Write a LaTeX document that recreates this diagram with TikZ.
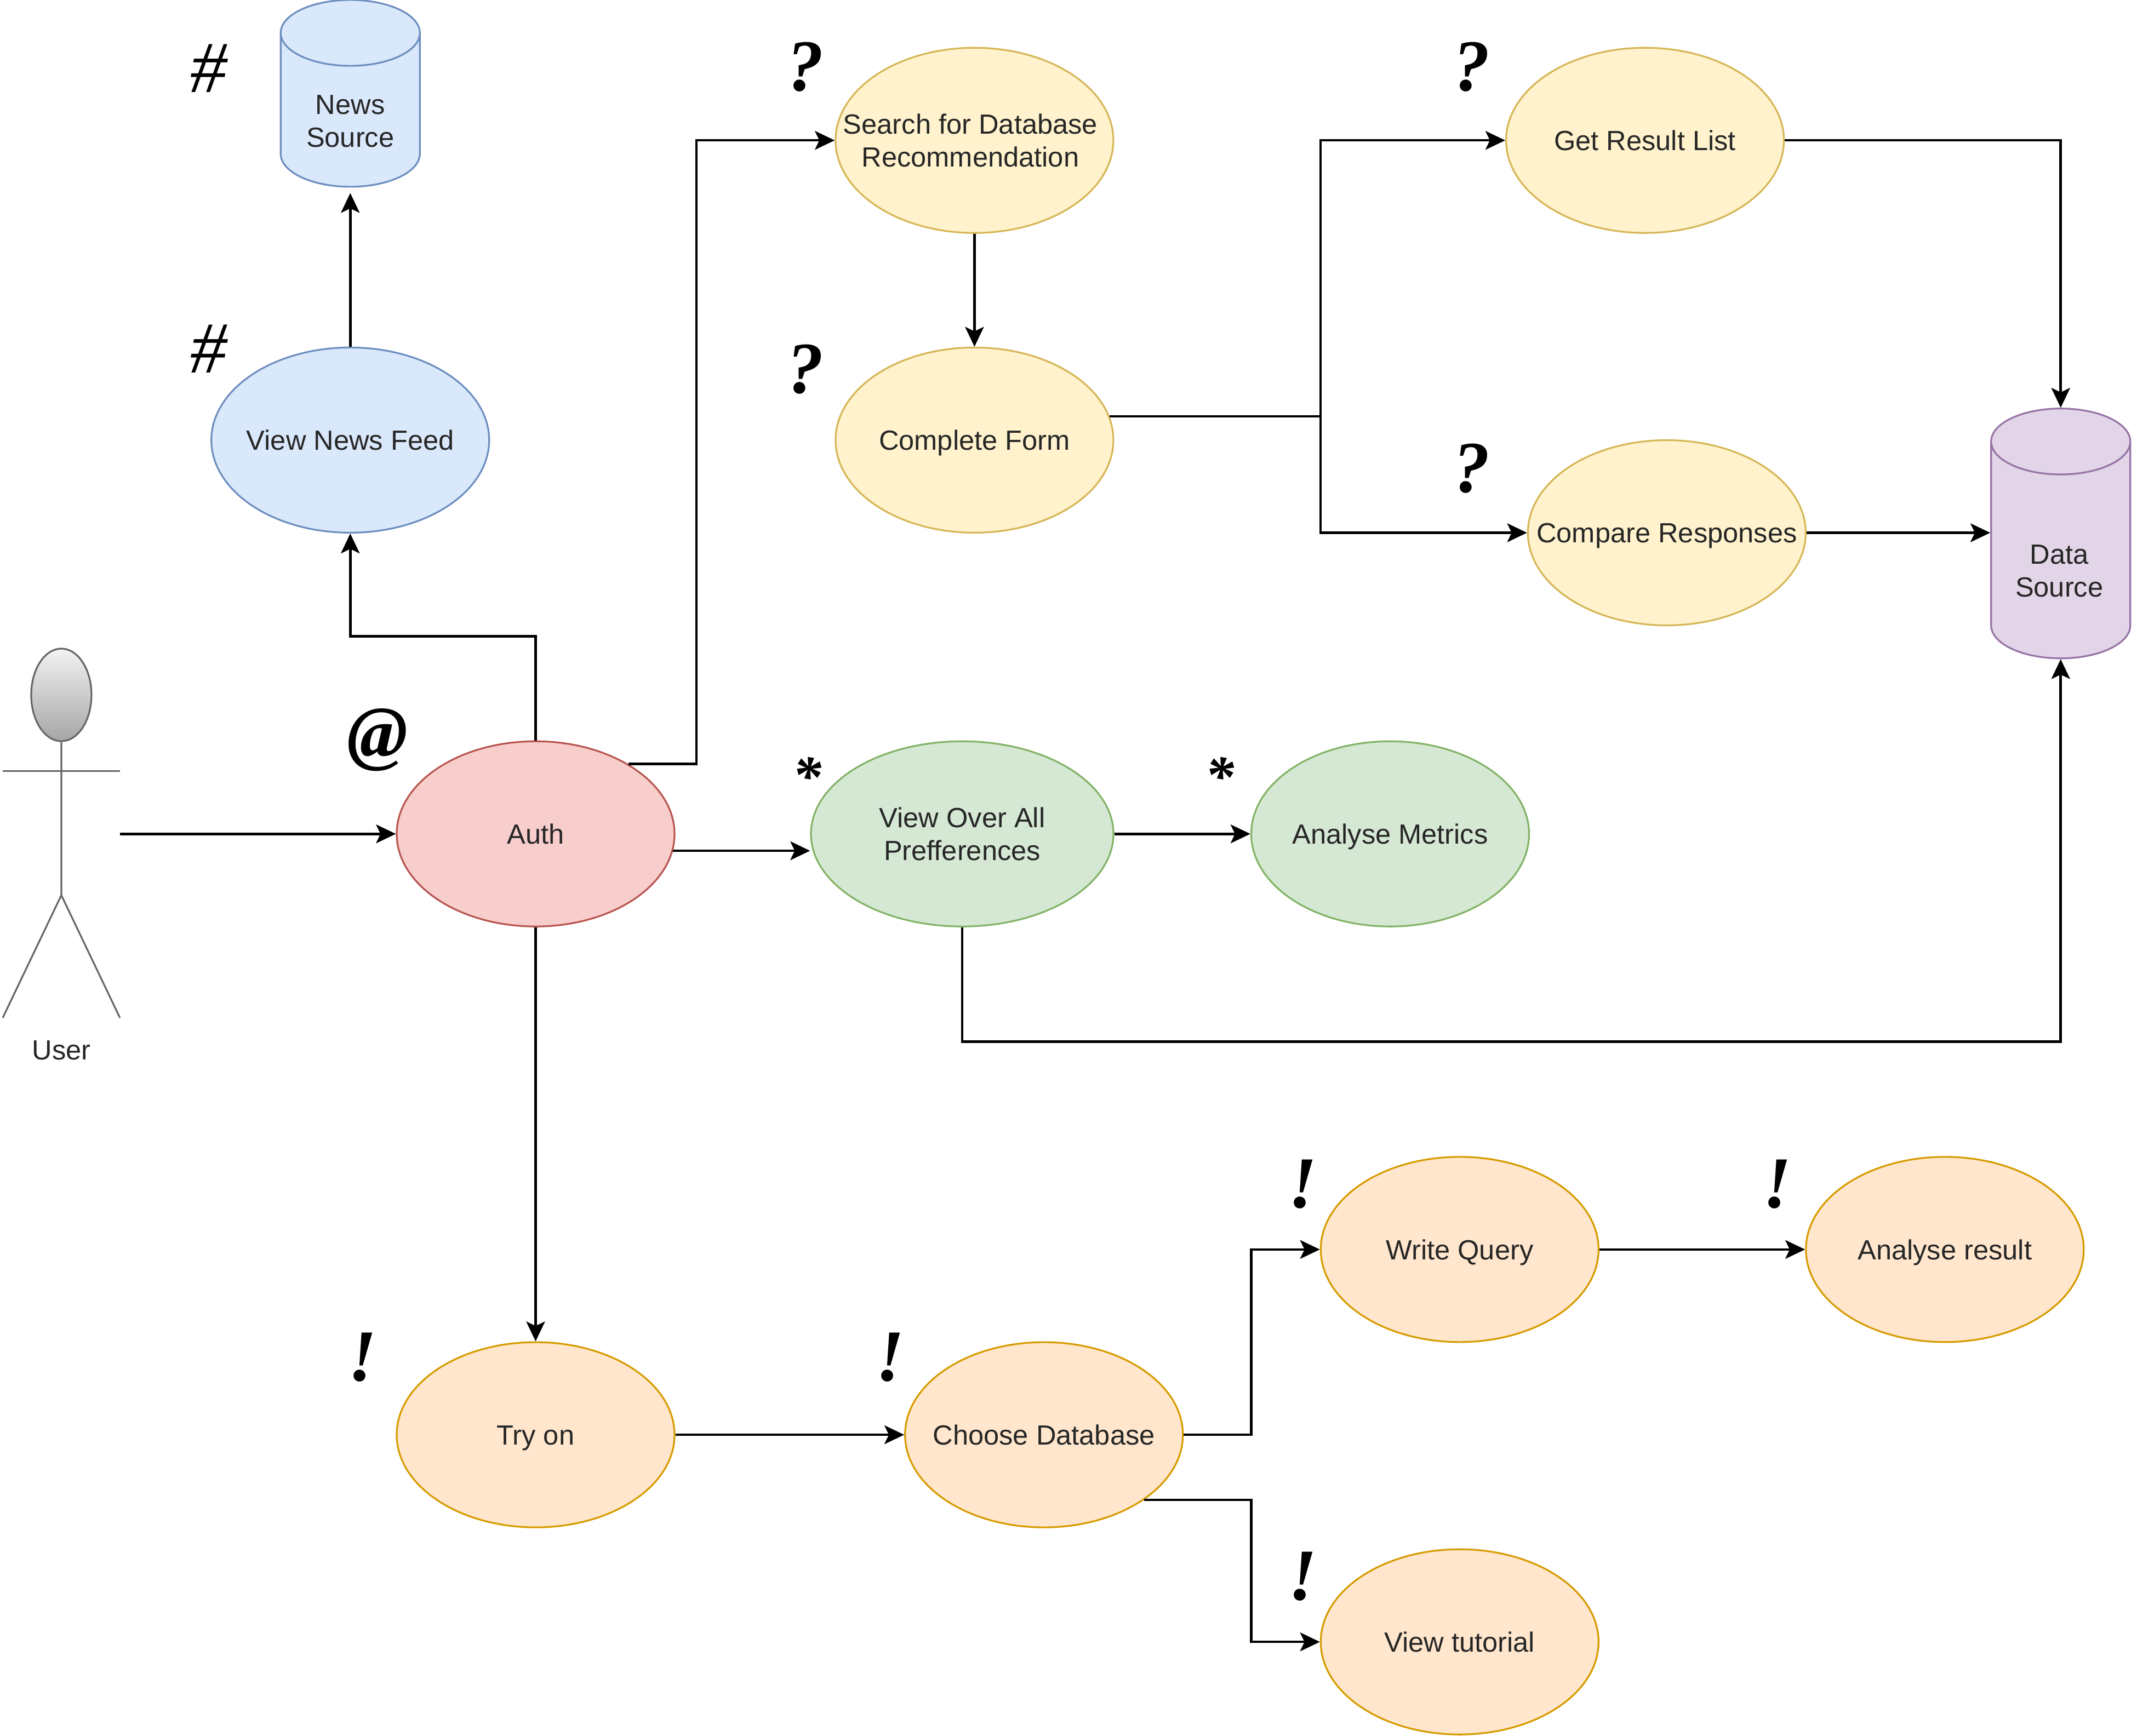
\documentclass[tikz,border=0pt]{standalone}
\usepackage{fontspec}
\setmainfont{Liberation Serif}
\setsansfont{Liberation Sans}
\usetikzlibrary{arrows.meta,calc,shapes.geometric}
\definecolor{blueFill}{HTML}{DAE8FC}\definecolor{blueLine}{HTML}{6C8EBF}
\definecolor{redFill}{HTML}{F8CECC}\definecolor{redLine}{HTML}{B85450}
\definecolor{yellowFill}{HTML}{FFF2CC}\definecolor{yellowLine}{HTML}{D6B656}
\definecolor{greenFill}{HTML}{D5E8D4}\definecolor{greenLine}{HTML}{82B366}
\definecolor{orangeFill}{HTML}{FFE6CC}\definecolor{orangeLine}{HTML}{D79B00}
\definecolor{purpleFill}{HTML}{E1D5E7}\definecolor{purpleLine}{HTML}{9673A6}
\tikzset{%
  >={Stealth[width=3.4mm,length=3.6mm,inset=0.8mm]},
  % Specifications for style of nodes:
  base/.style = {ellipse, draw, line width=0.9pt, inner sep=-1cm,
                 minimum width=5.07cm, minimum height=3.38cm,
                 align=center, text=black!85,
                 font=\sffamily\fontsize{14.4}{17}\selectfont},
  flat/.style = {text height=10.4pt, text depth=0pt},
  newsnode/.style = {base, fill=blueFill, draw=blueLine},
  authnode/.style = {base, fill=redFill, draw=redLine},
  searchnode/.style = {base, fill=yellowFill, draw=yellowLine},
  prefnode/.style = {base, fill=greenFill, draw=greenLine},
  trynode/.style = {base, fill=orangeFill, draw=orangeLine},
  store/.style = {cylinder, shape border rotate=90, shape aspect=0.75, draw,
                  anchor=shape center, align=center,
                  line width=0.9pt, inner sep=0pt, minimum width=2.54cm,
                  font=\sffamily\fontsize{14.4}{17}\selectfont},
  storetext/.style = {inner sep=0pt, align=center, text=black!85,
                  font=\sffamily\fontsize{14.4}{17}\selectfont},
  tagmark/.style = {inner sep=0pt, font=\bfseries\itshape\fontsize{38}{38}\selectfont},
  thinmark/.style = {tagmark, font=\itshape\fontsize{38}{38}\selectfont},
  starmark/.style = {tagmark, font=\bfseries\itshape\fontsize{30}{30}\selectfont},
  link/.style = {->, line width=1.3pt},
  stick/.style = {draw=black!60, line width=0.9pt},
}
\begin{document}
\begin{tikzpicture}[x=0.024872cm,y=-0.024872cm]
  \useasboundingbox (0,0) rectangle (1568,1273.8);
  % Specification of nodes (position, etc.)
  \node (newssrc)  [store, minimum height=3.41cm, fill=blueFill, draw=blueLine] at (257,68.5) {\phantom{News}\\\phantom{Source}};
  \node (newstext) [storetext]  at (257,89)   {News\\Source};
  \node (newsfeed) [newsnode, flat] at (257,323)  {View News Feed};
  \node (auth)     [authnode, flat] at (393,612)  {Auth};
  \node (search)   [searchnode] at (715,103)  {};
  \node (searchtext) [storetext] at (712,103) {Search for Database\\Recommendation};
  \node (complete) [searchnode, flat] at (715,323)  {Complete Form};
  \node (getlist)  [searchnode, flat] at (1207,103) {Get Result List};
  \node (compare)  [searchnode, flat] at (1223,391) {Compare Responses};
  \node (datasrc)  [store, minimum height=4.56cm, fill=purpleFill, draw=purpleLine] at (1512,391.5) {\phantom{Data}\\\phantom{Source}};
  \node (datatext) [storetext]  at (1511,419) {Data\\Source};
  \node (overall)  [prefnode, minimum width=5.52cm] at (706,612) {View Over All\\Prefferences};
  \node (metrics)  [prefnode, flat] at (1020,612) {Analyse Metrics};
  \node (tryon)    [trynode, flat] at (393,1053) {Try on};
  \node (choose)   [trynode, flat] at (766,1053) {Choose Database};
  \node (query)    [trynode, flat] at (1071,917) {Write Query};
  \node (result)   [trynode, flat] at (1427,917) {Analyse result};
  \node (tutorial) [trynode, flat] at (1071,1205) {View tutorial};
  % the stick figure
  \node (userhead) [ellipse, stick, inner sep=0pt, minimum width=1.1cm, minimum height=1.69cm,
                    top color=black!5, bottom color=black!35] at (45,510) {};
  \coordinate (userhip)   at (45,657);
  \coordinate (armleft)   at (2,566);
  \coordinate (armright)  at (88,566);
  \coordinate (footleft)  at (2,747);
  \coordinate (footright) at (88,747);
  \coordinate (userout)   at (88,612);
  \draw[stick] (userhead.south) -- (userhip) -- (footleft) (userhip) -- (footright);
  \draw[stick] (armleft) -- (armright);
  \node (userlabel) [font=\sffamily\fontsize{14.4}{17}\selectfont, text=black!85] at (45,771) {User};
  % the marks beside the nodes
  \node (marka) [thinmark] at (153,50)  {\#};
  \node (markb) [thinmark] at (153,256) {\#};
  \node (markc) [tagmark] at (277,543) {@};
  \node (markd) [tagmark] at (591,49)  {?};
  \node (marke) [tagmark] at (591,271) {?};
  \node (markf) [tagmark] at (1080,49) {?};
  \node (markg) [tagmark] at (1080,344) {?};
  \node (markh) [starmark] at (592,570) {*};
  \node (marki) [starmark] at (895,570) {*};
  \node (markj) [tagmark] at (266,996) {!};
  \node (markk) [tagmark] at (653,996) {!};
  \node (markl) [tagmark] at (956,869) {!};
  \node (markm) [tagmark] at (1304,869) {!};
  \node (markn) [tagmark] at (956,1157) {!};
  % Specification of lines between nodes specified above
  \coordinate (bendnews)   at (257,467);
  \coordinate (bendsearch) at (511,103);
  \coordinate (junction)   at (969,306);
  \coordinate (bendquery)  at (918,917);
  \coordinate (bendtut)    at (918,1205);
  \draw[link] (userout) -- (auth.west);
  \draw[link] (auth.north) |- (bendnews) -- (newsfeed.south);
  \draw[link] (newsfeed.north) -- ($(newssrc.south)+(0,4)$);
  \draw[link] (auth.37) -| (bendsearch) -- (search.west);
  \draw[link] (auth.-7.4) -- (auth.-7.4 -| overall.west);
  \draw[link] (overall.east) -- (metrics.west);
  \draw[link] (overall.south) -- ++(0,84) -| (datasrc.south);
  \draw[link] (search.south) -- (complete.north);
  \draw[line width=1.3pt] (complete.10) -- (complete.10 -| junction);
  \draw[link] (junction) |- (getlist.west);
  \draw[link] (junction) |- (compare.west);
  \draw[link] (getlist.east) -| (datasrc.north);
  \draw[link] (compare.east) -- (compare.east -| datasrc.west);
  \draw[link] (auth.south) -- (tryon.north);
  \draw[link] (tryon.east) -- (choose.west);
  \draw[link] (choose.east) -| (bendquery) -- (query.west);
  \draw[link] (choose.-33) -| (bendtut) -- (tutorial.west);
  \draw[link] (query.east) -- (result.west);
\end{tikzpicture}
\end{document}
